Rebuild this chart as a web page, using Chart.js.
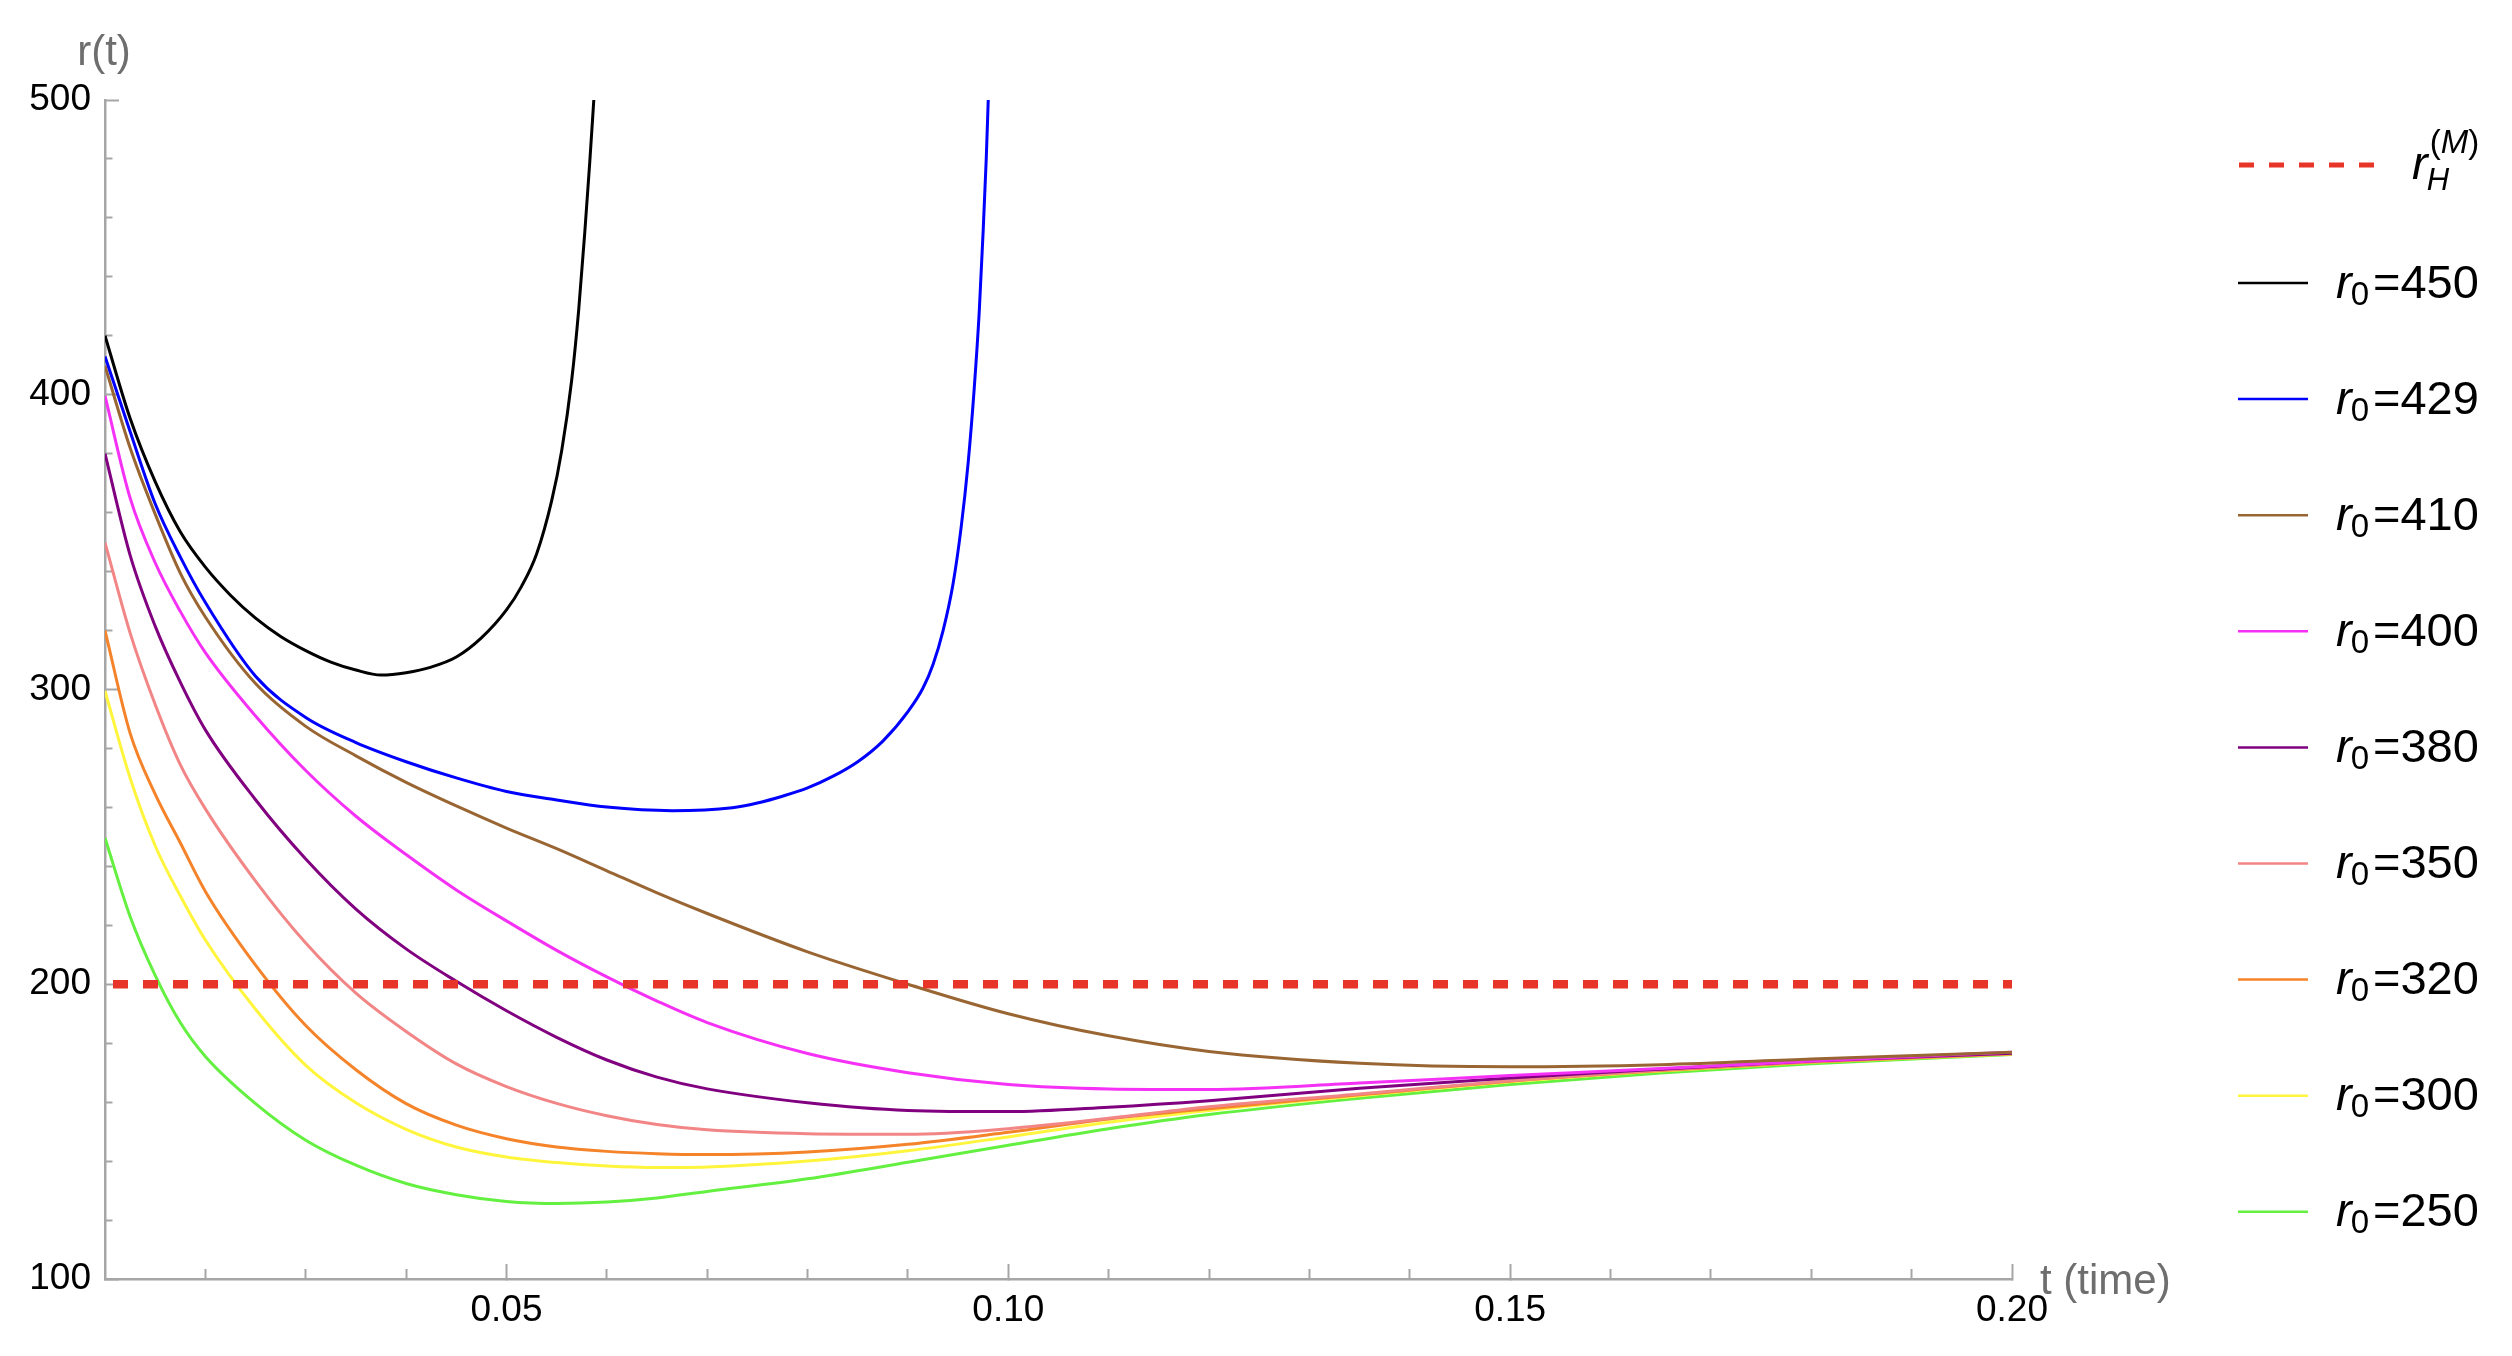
<!DOCTYPE html>
<html>
<head>
<meta charset="utf-8">
<title>r(t) for several r0</title>
<script src="https://cdn.jsdelivr.net/npm/chart.js@4.4.1/dist/chart.umd.min.js"></script>
<style>
    html, body { margin: 0; padding: 0; background: #fff; }
    #wrap { width: 2512px; height: 1356px; }
</style>
</head>
<body>
<div id="wrap"><canvas id="orbitChart" width="2512" height="1356"></canvas></div>
<script>
// orbit.js — r(t) curves for several starting radii r0, with the horizon r_H^(M)

// ==========================================
// Data
// ==========================================
const T = [0.01, 0.0125, 0.015, 0.0175, 0.02, 0.025, 0.03, 0.035, 0.04, 0.045, 0.05, 0.055,
    0.06, 0.065, 0.07, 0.08, 0.09, 0.10, 0.11, 0.12, 0.135, 0.15, 0.165, 0.18, 0.20];

const R_410 = [409.8, 382, 359.5, 339.5, 324.6, 302, 287.5, 277.5, 268.5, 260.5, 253, 246,
    238.5, 231, 224, 211, 200, 190, 182.5, 177.2, 173.2, 172, 172.7, 174.6, 176.9];
const R_400 = [399.6, 365, 343, 326.5, 312.5, 291, 272.5, 257, 244, 232, 221.5, 211.5,
    202.5, 194.3, 187, 176.5, 170, 166, 164.5, 164.3, 166.5, 169, 171.4, 174, 176.9];
const R_380 = [380, 345.6, 321.5, 302.5, 286.3, 262.6, 242.5, 225.5, 212, 201, 191, 182,
    174.3, 168.5, 164.5, 159.8, 157.2, 156.8, 158.3, 160.5, 164.7, 168.2, 171.2, 174, 176.6];
const R_350 = [349.8, 319.2, 294.9, 274.5, 259.5, 235, 214, 197, 184, 173, 165.3, 159.6,
    155.4, 152.4, 150.6, 149.3, 149.1, 151, 154.5, 158.4, 162.8, 167.3, 170.9, 173.8, 176.5];
const R_320 = [320, 285.2, 264.5, 248, 231.5, 206.5, 186, 171, 159.5, 152.2, 147.6, 144.8,
    143.3, 142.5, 142.2, 143.1, 145.7, 149.8, 154.3, 157.8, 162.5, 167.1, 170.7, 173.6, 176.4];
const R_300 = [299.5, 270, 247, 230, 215, 191.5, 172.5, 159.8, 150.8, 144.8, 141.4, 139.5,
    138.3, 137.8, 138, 140, 143.5, 148.2, 153.2, 157.2, 162.2, 166.9, 170.6, 173.5, 176.3];
const R_250 = [249.6, 223, 203, 187, 175.5, 159.5, 147.1, 138.6, 132.4, 128.6, 126.3, 125.6,
    126.1, 127.5, 129.7, 134, 139.6, 145.4, 151, 155.8, 161.3, 166, 169.9, 173, 176.2];

// the two escaping orbits need their own, denser time grids
const T_450 = [0.01, 0.0125, 0.015, 0.0175, 0.02, 0.0225, 0.025, 0.0275, 0.03, 0.0325, 0.035,
    0.0375, 0.04, 0.0425, 0.045, 0.0475, 0.05, 0.0515, 0.053, 0.0545, 0.0555, 0.0565, 0.0572,
    0.0578, 0.0583, 0.0587];
const R_450 = [420, 392, 370.5, 353.5, 341.5, 332, 324.2, 318, 313.2, 309.3, 306.6,
    304.9, 305.7, 307.6, 311, 317.5, 327, 335, 346, 364, 381, 405, 429,
    455, 479, 500];

const T_429 = [0.01, 0.0125, 0.015, 0.0175, 0.02, 0.025, 0.03, 0.035, 0.04, 0.045, 0.05, 0.055,
    0.06, 0.0665, 0.0725, 0.075, 0.0775, 0.08, 0.0825, 0.085, 0.0875, 0.09, 0.0915, 0.0925,
    0.0935, 0.0945, 0.0953, 0.096, 0.0966, 0.0971, 0.0975, 0.0978, 0.098];
const R_429 = [413, 387.5, 363, 345, 329.5, 304.5, 290.5, 282, 275.5, 270, 265.4, 262.5,
    260.1, 258.9, 259.9, 261.5, 263.8, 266.6, 270.5, 275.5, 282.5, 292.5, 300.5, 308.5,
    320, 336, 355, 377, 402, 428, 456, 480, 500];

const T_HORIZON = [0.01, 0.20];
const R_HORIZON = [200, 200];

const R0_VALUES = ['450', '429', '410', '400', '380', '350', '320', '300', '250'];

const X_MAJOR = [0.05, 0.10, 0.15, 0.20];
const X_MINOR = [0.02, 0.03, 0.04, 0.06, 0.07, 0.08, 0.09, 0.11, 0.12, 0.13, 0.14,
    0.16, 0.17, 0.18, 0.19];
const Y_MAJOR = [100, 200, 300, 400, 500];
const Y_MINOR = [120, 140, 160, 180, 220, 240, 260, 280, 320, 340, 360, 380,
    420, 440, 460, 480];

const COLORS = {
    horizon: '#e8352a',
    r450: '#000000',
    r429: '#0000ff',
    r410: '#996633',
    r400: '#f531f5',
    r380: '#800080',
    r350: '#f28585',
    r320: '#f5832a',
    r300: '#fff53c',
    r250: '#64f040',
    axis: '#a6a6a6',
    title: '#6e6e6e',
};

const FONT = "'Liberation Sans', Arial, sans-serif";
Chart.defaults.font.family = FONT;

const pts = (xs, ys) => xs.map((x, i) => ({ x, y: ys[i] }));

function curve(label, xs, ys, color) {
    return {
        label,
        data: pts(xs, ys),
        borderColor: color,
        borderWidth: 3,
        pointRadius: 0,
        fill: false,
        cubicInterpolationMode: 'monotone',
    };
}

const datasets = [
    {
        label: 'rH',
        data: pts(T_HORIZON, R_HORIZON),
        borderColor: COLORS.horizon,
        borderWidth: 8.5,
        borderDash: [15, 15],
        borderDashOffset: 22,
        borderCapStyle: 'butt',
        pointRadius: 0,
        fill: false,
    },
    curve('r0=450', T_450, R_450, COLORS.r450),
    curve('r0=429', T_429, R_429, COLORS.r429),
    curve('r0=410', T, R_410, COLORS.r410),
    curve('r0=400', T, R_400, COLORS.r400),
    curve('r0=380', T, R_380, COLORS.r380),
    curve('r0=350', T, R_350, COLORS.r350),
    curve('r0=320', T, R_320, COLORS.r320),
    curve('r0=300', T, R_300, COLORS.r300),
    curve('r0=250', T, R_250, COLORS.r250),
];

// ==========================================
// Side legend + axis titles (drawn by hand for the sub/superscripts)
// ==========================================
function drawR0Label(ctx, x, y, value) {
    ctx.fillStyle = '#000';
    ctx.textAlign = 'left';
    ctx.textBaseline = 'alphabetic';
    ctx.font = `italic 47px ${FONT}`;
    ctx.fillText('r', x, y);
    x += ctx.measureText('r').width - 1;
    ctx.font = `33px ${FONT}`;
    ctx.fillText('0', x, y + 7);
    x += ctx.measureText('0').width + 4;
    ctx.font = `47px ${FONT}`;
    ctx.fillText('=' + value, x, y);
}

function drawHorizonLabel(ctx, x, y) {
    ctx.fillStyle = '#000';
    ctx.textAlign = 'left';
    ctx.textBaseline = 'alphabetic';
    ctx.font = `italic 47px ${FONT}`;
    ctx.fillText('r', x, y);
    const sx = x + ctx.measureText('r').width;
    ctx.font = `italic 31px ${FONT}`;
    ctx.fillText('H', sx - 1, y + 11);
    let px = sx + 2;
    const py = y - 26;
    ctx.font = `33px ${FONT}`;
    ctx.fillText('(', px, py);
    px += ctx.measureText('(').width;
    ctx.font = `italic 33px ${FONT}`;
    ctx.fillText('M', px, py);
    px += ctx.measureText('M').width;
    ctx.font = `33px ${FONT}`;
    ctx.fillText(')', px, py);
}

const sideLegend = {
    id: 'sideLegend',
    afterDraw(chart) {
        const ctx = chart.ctx;
        ctx.save();

        // axis titles
        ctx.fillStyle = COLORS.title;
        ctx.font = `42px ${FONT}`;
        ctx.textBaseline = 'alphabetic';
        ctx.textAlign = 'center';
        ctx.fillText('r(t)', 104, 65);
        ctx.textAlign = 'left';
        ctx.fillText('t (time)', 2040, 1294);

        // horizon entry
        ctx.strokeStyle = COLORS.horizon;
        ctx.lineWidth = 5;
        ctx.setLineDash([15, 15]);
        ctx.beginPath();
        ctx.moveTo(2239, 165);
        ctx.lineTo(2375, 165);
        ctx.stroke();
        ctx.setLineDash([]);
        drawHorizonLabel(ctx, 2412, 179);

        // r0 entries
        chart.data.datasets.slice(1).forEach((ds, i) => {
            const y = 283 + i * 116.1;
            ctx.strokeStyle = ds.borderColor;
            ctx.lineWidth = 2.5;
            ctx.beginPath();
            ctx.moveTo(2238, y);
            ctx.lineTo(2308, y);
            ctx.stroke();
            drawR0Label(ctx, 2336, y + 14.5, R0_VALUES[i]);
        });

        ctx.restore();
    }
};

// ==========================================
// Chart
// ==========================================
const tickFont = { family: FONT, size: 37 };

new Chart(document.getElementById('orbitChart'), {
    type: 'line',
    data: { datasets },
    options: {
        responsive: false,
        animation: false,
        devicePixelRatio: 1,
        layout: { padding: { left: 0, top: 100, right: 500, bottom: 0 } },
        plugins: {
            legend: { display: false },
            tooltip: { enabled: false },
        },
        scales: {
            x: {
                type: 'linear',
                position: 'bottom',
                weight: 1,
                min: 0.01,
                max: 0.2,
                afterBuildTicks: s => { s.ticks = X_MAJOR.map(v => ({ value: v })); },
                afterFit: s => { s.height = 77; },
                border: { display: true, color: COLORS.axis, width: 2.5 },
                grid: { drawOnChartArea: false, tickLength: -15, tickColor: COLORS.axis, tickWidth: 2 },
                ticks: {
                    color: '#000',
                    font: tickFont,
                    padding: 25,
                    maxRotation: 0,
                    autoSkip: false,
                    callback: v => Number(v).toFixed(2),
                },
            },
            xMinor: {
                type: 'linear',
                position: 'bottom',
                weight: 0,
                min: 0.01,
                max: 0.2,
                afterBuildTicks: s => { s.ticks = X_MINOR.map(v => ({ value: v })); },
                afterFit: s => { s.height = 0; },
                border: { display: false },
                grid: { drawOnChartArea: false, tickLength: -10, tickColor: COLORS.axis, tickWidth: 2 },
                ticks: { display: false },
            },
            y: {
                type: 'linear',
                position: 'left',
                weight: 1,
                min: 100,
                max: 500,
                afterBuildTicks: s => { s.ticks = Y_MAJOR.map(v => ({ value: v })); },
                afterFit: s => { s.width = 105; },
                border: { display: true, color: COLORS.axis, width: 2.5 },
                grid: { drawOnChartArea: false, tickLength: -14, tickColor: COLORS.axis, tickWidth: 2 },
                ticks: {
                    color: '#000',
                    font: tickFont,
                    padding: 28,
                    autoSkip: false,
                    callback: v => String(v),
                },
            },
            yMinor: {
                type: 'linear',
                position: 'left',
                weight: 0,
                min: 100,
                max: 500,
                afterBuildTicks: s => { s.ticks = Y_MINOR.map(v => ({ value: v })); },
                afterFit: s => { s.width = 0; },
                border: { display: false },
                grid: { drawOnChartArea: false, tickLength: -7.5, tickColor: COLORS.axis, tickWidth: 2 },
                ticks: { display: false },
            },
        },
    },
    plugins: [sideLegend],
});
</script>
</body>
</html>
